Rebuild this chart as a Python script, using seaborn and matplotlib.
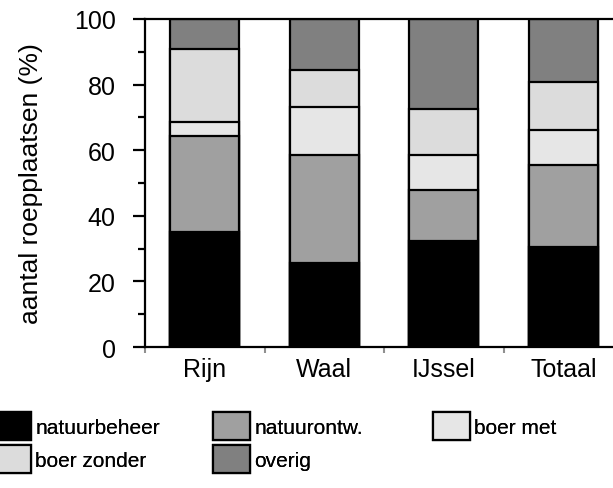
import matplotlib
matplotlib.use('Agg')
import matplotlib.pyplot as plt
import seaborn as sns
import pandas as pd
import numpy as np
from matplotlib.patches import Patch
from matplotlib.ticker import MultipleLocator, FixedLocator

categories = ["Rijn", "Waal", "IJssel", "Totaal"]
series = ["natuurbeheer", "natuurontw.", "boer met", "boer zonder", "overig"]
natuurbeheer = [35.0, 25.5, 32.4, 30.5]
natuurontw = [29.2, 33.1, 15.5, 25.1]
boer_met = [4.5, 14.7, 10.7, 10.7]
boer_zonder = [22.2, 11.2, 14.0, 14.4]
overig = [9.1, 15.5, 27.4, 19.3]
colors = ["#000000", "#a0a0a0", "#e6e6e6", "#dcdcdc", "#808080"]

sns.set_style("white")
plt.rcParams['font.family'] = ['Liberation Sans', 'DejaVu Sans']
for key in ['text.color', 'axes.labelcolor', 'xtick.color', 'ytick.color']:
    plt.rcParams[key] = 'black'

values = np.array([natuurbeheer, natuurontw, boer_met, boer_zonder, overig])
cum = np.cumsum(values, axis=0)

fig = plt.figure(figsize=(6.13, 4.89), dpi=100)
ax = fig.add_axes([145/613, 1-348/489, (613-145)/613, (348-20)/489])

for i in range(len(series) - 1, -1, -1):
    df = pd.DataFrame({"cat": categories, "val": cum[i]})
    sns.barplot(data=df, x="cat", y="val", order=categories, color=colors[i],
                saturation=1, edgecolor="black", linewidth=1.6, width=0.58,
                errorbar=None, ax=ax, zorder=2)

ax.set_xlim(-0.5, 3.416)
ax.set_ylim(0, 100)
ax.set_xlabel("")
ax.set_ylabel("aantal roepplaatsen (%)", fontsize=19)
ax.yaxis.set_label_coords(-0.218, 0.5)

ax.yaxis.set_major_locator(MultipleLocator(20))
ax.yaxis.set_minor_locator(MultipleLocator(10))
ax.tick_params(axis='y', which='major', direction='out', length=9, width=1.6,
               labelsize=18, pad=12, left=True)
ax.tick_params(axis='y', which='minor', direction='out', length=5, width=1.6, left=True)
ax.xaxis.set_minor_locator(FixedLocator([-0.5, 0.5, 1.5, 2.5]))
ax.tick_params(axis='x', which='major', length=0, labelsize=18, pad=7)
ax.tick_params(axis='x', which='minor', direction='out', length=4, width=1.5,
               color='#909090', bottom=True)

for side in ['left', 'bottom', 'top']:
    ax.spines[side].set_visible(True)
    ax.spines[side].set_color('black')
    ax.spines[side].set_linewidth(1.6)
ax.spines['right'].set_visible(False)
ax.spines['bottom'].set_zorder(5)

handles = [Patch(facecolor=c, edgecolor='black', linewidth=1.6, label=s)
           for s, c in zip(series, colors)]
cols = [[0, 3], [1, 4], [2]]
xs = [-6/613, 213/613, 433/613]
for col, x in zip(cols, xs):
    leg = fig.legend(handles=[handles[k] for k in col], loc='upper left',
                     bbox_to_anchor=(x, 1-413/489), frameon=False, fontsize=15,
                     borderpad=0, borderaxespad=0, handlelength=1.78,
                     handleheight=1.68, handletextpad=0.2, labelspacing=0.24)
    fig.add_artist(leg)

fig.savefig("out.png", dpi=100)
